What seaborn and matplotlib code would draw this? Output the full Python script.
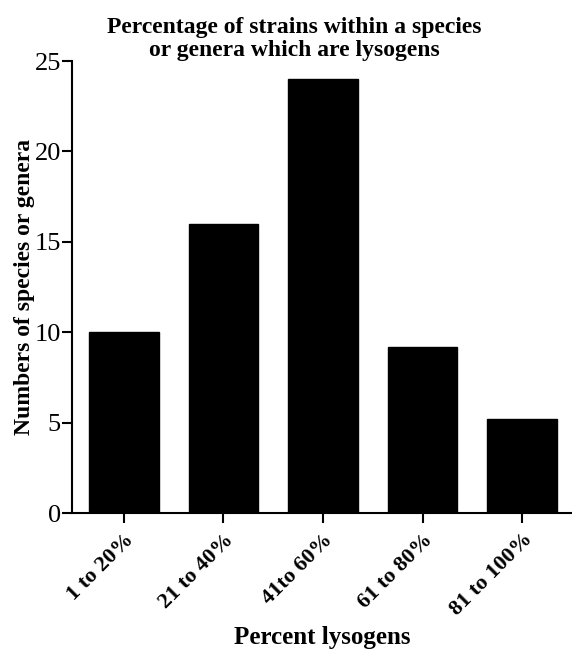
import matplotlib
matplotlib.use("Agg")
import matplotlib.pyplot as plt
import seaborn as sns
import pandas as pd

categories = ["1 to 20%", "21 to 40%", "41to 60%", "61 to 80%", "81 to 100%"]
counts = [10, 16, 24, 9.2, 5.2]
yticks = [0, 5, 10, 15, 20, 25]

sns.set_style("ticks")
plt.rcParams['font.family'] = ['Liberation Serif', 'DejaVu Serif']
plt.rcParams.update({"text.color": "black", "axes.labelcolor": "black",
                     "xtick.color": "black", "ytick.color": "black",
                     "axes.edgecolor": "black"})

df = pd.DataFrame({"range": categories, "count": counts})

fig = plt.figure(figsize=(5.72, 6.49), dpi=100)
ax = fig.add_axes([72/572, 136/649, 500/572, 452/649])
sns.barplot(data=df, x="range", y="count", color="black", width=0.70,
            saturation=1, ax=ax, edgecolor="black")

ax.set_xlim(-0.52, 4.5)
ax.set_ylim(0, 25)
ax.set_yticks(yticks)
ax.set_yticklabels([str(v) for v in yticks], fontsize=19)
ax.set_xticks(range(len(categories)))
ax.set_xticklabels(categories, rotation=45, ha="right", rotation_mode="anchor",
                   fontsize=16, fontweight="bold")
ax.tick_params(axis="both", length=7, width=1.5, color="black", labelcolor="black",
               direction="out")
ax.tick_params(axis="y", pad=1)
ax.tick_params(axis="x", pad=5)
for s in ["top", "right"]:
    ax.spines[s].set_visible(False)
for s in ["left", "bottom"]:
    ax.spines[s].set_linewidth(1.5)
    ax.spines[s].set_color("black")

ax.set_xlabel("Percent lysogens", fontsize=18, fontweight="bold", labelpad=4,
              color="black")
ax.set_ylabel("Numbers of species or genera", fontsize=17, fontweight="bold",
              labelpad=0, color="black")
ax.set_title("Percentage of strains within a species\nor genera which are lysogens",
             fontsize=17, fontweight="bold", linespacing=1.12, pad=2, x=0.444,
             color="black")

fig.savefig("out.png", dpi=100, facecolor="white")
